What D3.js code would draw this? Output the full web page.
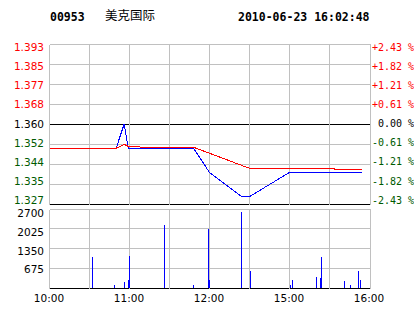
<!DOCTYPE html>
<html>
<head>
<meta charset="utf-8">
<script src="https://cdn.jsdelivr.net/npm/d3@7"></script>
<style>
  body { margin: 0; background: #fff; }
  svg { display: block; }
  text { white-space: pre; }
</style>
</head>
<body>
<div id="chart"></div>
<script>
// header
const stockCode = "00953";
const stockName = "美克国际";
const stamp = "2010-06-23 16:02:48";
const prevClose = 1.360;

// price line (blue) and average line (red), key points
const priceTimes = ["10:00", "10:50", "10:56", "10:59", "11:48", "12:00", "12:24", "12:30", "15:00", "15:54"];
const priceValues = [1.350, 1.350, 1.360, 1.350, 1.350, 1.340, 1.330, 1.330, 1.340, 1.340];

const avgTimes = ["10:00", "10:50", "10:56", "10:59", "11:07", "11:08", "11:48", "12:30", "15:33", "15:34", "15:54"];
const avgValues = [1.3500, 1.3500, 1.3516, 1.3508, 1.3508, 1.3504, 1.3504, 1.3417, 1.3417, 1.3413, 1.3413];

// volume bars
const volTimes = ["10:32", "10:49", "10:56", "10:59", "11:00", "11:26", "11:48", "11:59", "12:00", "12:24",
                  "14:31", "15:01", "15:02", "15:20", "15:23", "15:24", "15:41", "15:46", "15:52", "15:53"];
const volValues = [1050, 90, 210, 260, 1110, 2150, 90, 2000, 260, 2600,
                   570, 90, 260, 360, 330, 1050, 250, 90, 570, 260];

// tick labels
const priceLabels = ["1.393", "1.385", "1.377", "1.368", "1.360", "1.352", "1.344", "1.335", "1.327"];
const pctLabels = ["+2.43 %", "+1.82 %", "+1.21 %", "+0.61 %", " 0.00 %", "-0.61 %", "-1.21 %", "-1.82 %", "-2.43 %"];
const volLabels = ["2700", "2025", "1350", "675"];
const volTicks = [2700, 2025, 1350, 675, 0];
const timeLabels = ["10:00", "11:00", "12:00", "15:00", "16:00"];

const W = 414, H = 314;
const gridColor = "#c0c0c0";
const upColor = "#ff0000", downColor = "#005a00";

// minutes of trading since 10:00 (lunch 12:30-14:30 removed)
function tradeMin(t) {
    const [h, m] = t.split(":").map(Number);
    let v = h * 60 + m - 600;
    if (v >= 270) v -= 120;
    return v;
}
const px = v => Math.floor(v) + 0.5;

const svg = d3.select("#chart").append("svg")
    .attr("width", W)
    .attr("height", H);

const x = d3.scaleLinear().domain([0, 240]).range([49, 369]);
const xRight = 370.5;

const span = prevClose * 0.0243;
const y = d3.scaleLinear().domain([prevClose - span, prevClose + span]).range([204, 44]);
const vy = d3.scaleLinear().domain([0, 2700]).range([288, 209]);

// header
svg.append("text").attr("x", 50).attr("y", 21)
    .attr("font-family", "DejaVu Sans Mono").attr("font-weight", "bold").attr("font-size", "11.5px")
    .text(stockCode);
svg.append("text").attr("x", 105).attr("y", 20)
    .attr("font-family", "Noto Sans CJK SC").attr("font-size", "12.5px")
    .text(stockName);
svg.append("text").attr("x", 238).attr("y", 21)
    .attr("font-family", "DejaVu Sans Mono").attr("font-weight", "bold").attr("font-size", "11.5px")
    .text(stamp);

const grid = svg.append("g").attr("shape-rendering", "crispEdges");
const vLines = d3.range(0, 240, 30);

// upper chart grid
const priceGrid = d3.range(9).map(i => y.domain()[1] - i * (2 * span / 8));
grid.selectAll(".pg").data(priceGrid).enter().append("line")
    .attr("x1", px(x(0))).attr("x2", xRight)
    .attr("y1", d => px(y(d))).attr("y2", d => px(y(d)))
    .attr("stroke", (d, i) => (i === 4 || i === 8) ? "#000" : gridColor);
grid.selectAll(".pv").data(vLines).enter().append("line")
    .attr("x1", d => px(x(d))).attr("x2", d => px(x(d)))
    .attr("y1", px(y.range()[1])).attr("y2", px(y.range()[0]))
    .attr("stroke", gridColor);
grid.append("line")
    .attr("x1", xRight).attr("x2", xRight)
    .attr("y1", px(y.range()[1])).attr("y2", px(y.range()[0]))
    .attr("stroke", gridColor);

// lower chart grid
grid.selectAll(".vg").data(volTicks).enter().append("line")
    .attr("x1", px(x(0))).attr("x2", xRight)
    .attr("y1", d => px(vy(d))).attr("y2", d => px(vy(d)))
    .attr("stroke", d => d === 0 ? "#000" : gridColor);
grid.selectAll(".vv").data(vLines).enter().append("line")
    .attr("x1", d => px(x(d))).attr("x2", d => px(x(d)))
    .attr("y1", px(vy(2700))).attr("y2", px(vy(0)))
    .attr("stroke", gridColor);
grid.append("line")
    .attr("x1", xRight).attr("x2", xRight)
    .attr("y1", px(vy(2700))).attr("y2", px(vy(0)))
    .attr("stroke", gridColor);

// lines
const priceData = priceTimes.map((t, i) => ({t: t, v: priceValues[i]}));
const avgData = avgTimes.map((t, i) => ({t: t, v: avgValues[i]}));
const line = d3.line()
    .x(d => x(tradeMin(d.t)) + 0.5)
    .y(d => y(d.v));

svg.append("path").datum(priceData)
    .attr("fill", "none").attr("stroke", "#0000ff").attr("stroke-width", 1)
    .attr("shape-rendering", "crispEdges")
    .attr("d", line);
svg.append("path").datum(avgData)
    .attr("fill", "none").attr("stroke", "#ff0000").attr("stroke-width", 1)
    .attr("shape-rendering", "crispEdges")
    .attr("d", line);

// volume bars
const volData = volTimes.map((t, i) => ({t: t, v: volValues[i]}));
svg.append("g").attr("shape-rendering", "crispEdges")
    .selectAll("rect").data(volData).enter().append("rect")
    .attr("x", d => Math.round(x(tradeMin(d.t))))
    .attr("width", 1)
    .attr("y", d => vy(d.v))
    .attr("height", d => vy(0) - vy(d.v))
    .attr("fill", "#0000ff");

// price labels (spread a little tighter than the grid, as in the original)
const labelY = d3.scaleLinear().domain([0, 8]).range([47.5, 200]);
const labelColor = i => i < 4 ? upColor : (i === 4 ? "#000" : downColor);
svg.selectAll(".pl").data(priceLabels).enter().append("text")
    .attr("x", 44).attr("y", (d, i) => labelY(i))
    .attr("dy", "0.36em")
    .attr("text-anchor", "end")
    .attr("font-family", "DejaVu Sans").attr("font-size", "10.5px")
    .attr("fill", (d, i) => labelColor(i))
    .text(d => d);
svg.selectAll(".pr").data(pctLabels).enter().append("text")
    .attr("x", 372).attr("y", (d, i) => labelY(i))
    .attr("dy", "0.36em")
    .attr("font-family", "DejaVu Sans Mono").attr("font-size", "10px")
    .attr("fill", (d, i) => labelColor(i))
    .text(d => d);

// volume labels
const volLabelY = d3.scaleLinear().domain([0, 3]).range([213.5, 269.5]);
svg.selectAll(".vl").data(volLabels).enter().append("text")
    .attr("x", 44).attr("y", (d, i) => volLabelY(i))
    .attr("dy", "0.36em")
    .attr("text-anchor", "end")
    .attr("font-family", "DejaVu Sans").attr("font-size", "10.5px")
    .attr("fill", "#000")
    .text(d => d);

// time labels
svg.selectAll(".tl").data(timeLabels).enter().append("text")
    .attr("x", d => x(tradeMin(d)))
    .attr("y", 298)
    .attr("dy", "0.36em")
    .attr("text-anchor", "middle")
    .attr("font-family", "DejaVu Sans").attr("font-size", "10.5px")
    .attr("fill", "#000")
    .text(d => d);
</script>
</body>
</html>
